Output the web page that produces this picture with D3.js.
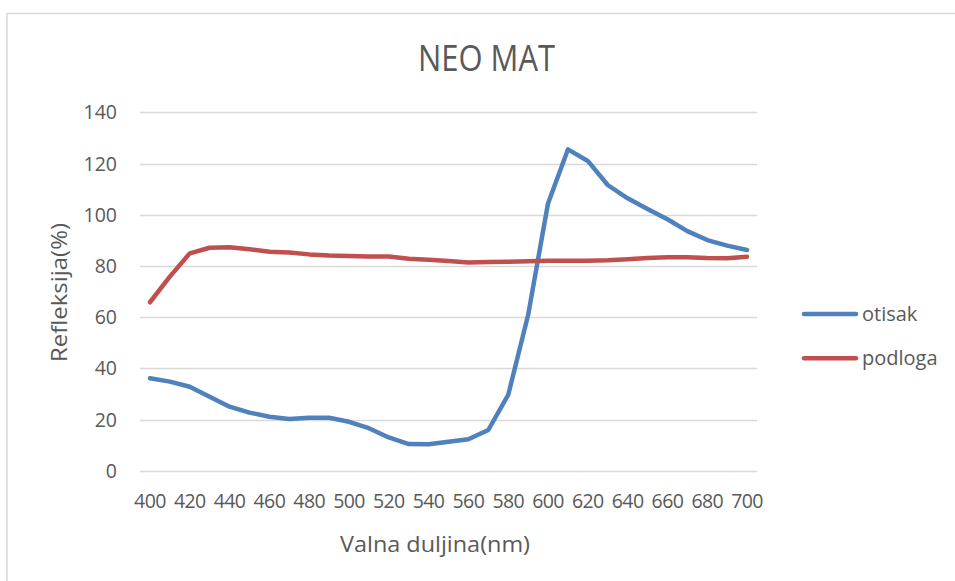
<!DOCTYPE html>
<html>
<head>
<meta charset="utf-8">
<script src="https://cdn.jsdelivr.net/npm/d3@7"></script>
<style>
  html, body { margin: 0; padding: 0; background: #fff; }
  svg { display: block; font-family: "Open Sans", Lato, sans-serif; }
</style>
</head>
<body>
<svg id="chart" width="955" height="581"></svg>
<script>
const wavelengths = [400,410,420,430,440,450,460,470,480,490,500,510,520,530,540,550,560,570,580,590,600,610,620,630,640,650,660,670,680,690,700];
const otisak = [36.1,34.8,32.8,28.9,25.0,22.7,21.1,20.2,20.7,20.7,19.1,16.6,13.0,10.4,10.3,11.3,12.3,15.9,29.6,60.8,104.4,125.5,121.0,111.6,106.4,102.2,98.2,93.6,90.1,87.9,86.2];
const podloga = [65.8,75.8,84.9,87.1,87.3,86.5,85.5,85.2,84.5,84.1,83.9,83.7,83.7,82.8,82.4,81.9,81.3,81.5,81.6,81.8,82.0,82.0,82.0,82.2,82.6,83.1,83.4,83.4,83.1,83.0,83.6];
const xTickLabels = [400,420,440,460,480,500,520,540,560,580,600,620,640,660,680,700];
const yTicks = [0,20,40,60,80,100,120,140];
const seriesNames = ["otisak","podloga"];
const seriesColors = ["#4f81bd","#c0504d"];
const title = "NEO MAT";
const xTitle = "Valna duljina(nm)";
const yTitle = "Refleksija(%)";

const svg = d3.select("#chart");
const textColor = "#595959";

// outer border
svg.append("rect").attr("x", 7).attr("y", 13.5).attr("width", 1000).attr("height", 1000)
  .attr("fill", "none").attr("stroke", "#d9d9d9").attr("stroke-width", 1.5);

const x = d3.scalePoint().domain(wavelengths).range([140, 757]).padding(0.5);
const y = d3.scaleLinear().domain([0, 140]).range([470.7, 112.3]);

// gridlines
svg.append("g").selectAll("line").data(yTicks).join("line")
  .attr("x1", 140).attr("x2", 757)
  .attr("y1", d => Math.round(y(d)) + 0.5).attr("y2", d => Math.round(y(d)) + 0.5)
  .attr("stroke", "#d9d9d9").attr("stroke-width", 1.3);

// y tick labels
svg.append("g").selectAll("text").data(yTicks).join("text")
  .attr("x", 117).attr("y", d => y(d)).attr("dy", "0.36em")
  .attr("text-anchor", "end").attr("font-size", 19.5).attr("fill", textColor)
  .text(d => d);

// x tick labels
svg.append("g").selectAll("text").data(xTickLabels).join("text")
  .attr("x", d => x(d)).attr("y", 508)
  .attr("text-anchor", "middle").attr("font-size", 19.5).attr("fill", textColor)
  .attr("letter-spacing", -0.6)
  .text(d => d);

// lines
const series = [otisak, podloga];
const line = d3.line().x((d, i) => x(wavelengths[i])).y(d => y(d));
series.forEach((s, k) => {
  svg.append("path").datum(s).attr("d", line)
    .attr("fill", "none").attr("stroke", seriesColors[k]).attr("stroke-width", 4.5)
    .attr("stroke-linecap", "round").attr("stroke-linejoin", "round");
});

// title
svg.append("text").attr("x", 486.5).attr("y", 71).attr("text-anchor", "middle")
  .attr("font-size", 36).attr("fill", textColor)
  .attr("textLength", 137).attr("lengthAdjust", "spacingAndGlyphs")
  .text(title);

// axis titles
svg.append("text").attr("x", 435).attr("y", 552).attr("text-anchor", "middle")
  .attr("font-size", 21).attr("fill", textColor)
  .attr("textLength", 190).attr("lengthAdjust", "spacingAndGlyphs").text(xTitle);
svg.append("text").attr("transform", "translate(67,292.5) rotate(-90)").attr("text-anchor", "middle")
  .attr("font-size", 21).attr("fill", textColor)
  .attr("textLength", 139).attr("lengthAdjust", "spacingAndGlyphs").text(yTitle);

// legend
const legY = [314, 358.3];
seriesNames.forEach((name, k) => {
  svg.append("line").attr("x1", 804).attr("x2", 856).attr("y1", legY[k]).attr("y2", legY[k])
    .attr("stroke", seriesColors[k]).attr("stroke-width", 4.5).attr("stroke-linecap", "round");
  svg.append("text").attr("x", 862).attr("y", legY[k] + 7).attr("font-size", 20)
    .attr("fill", textColor).text(name);
});
</script>
</body>
</html>
